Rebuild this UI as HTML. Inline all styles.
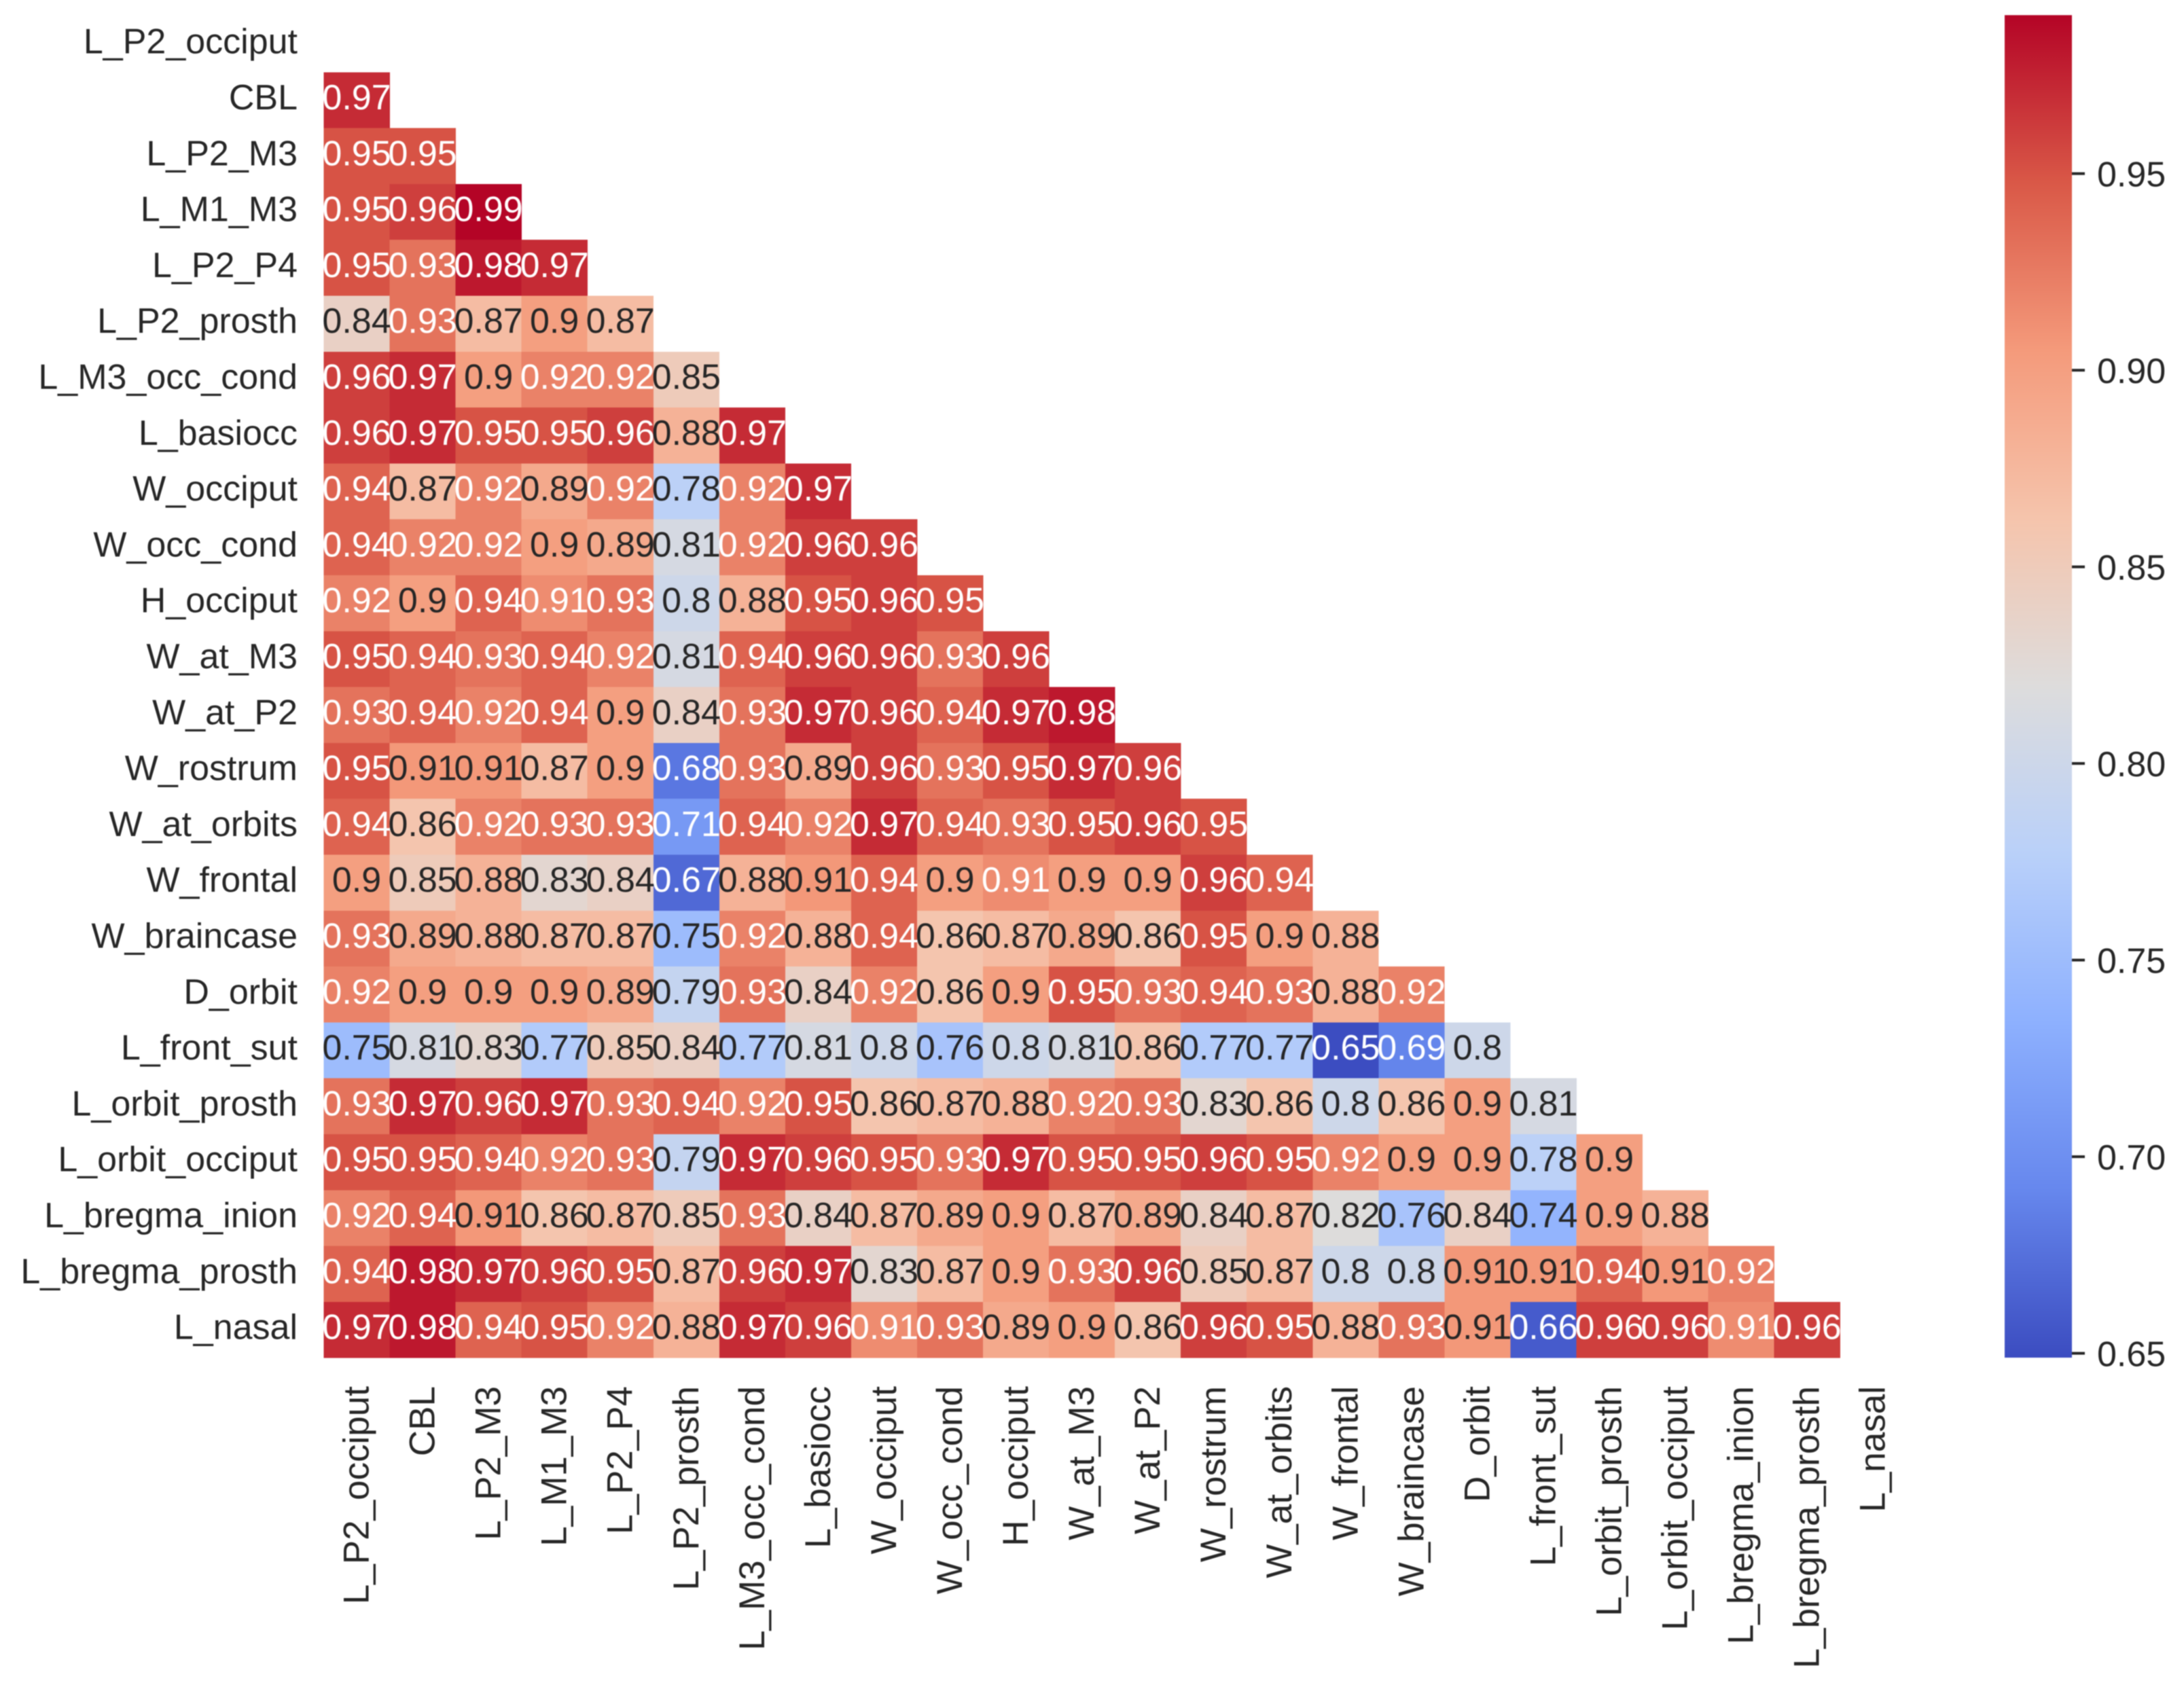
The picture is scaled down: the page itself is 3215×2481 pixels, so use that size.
<!DOCTYPE html>
<html lang="en">
<head>
<meta charset="utf-8">
<title>Correlation heatmap</title>
<style>
html,body{margin:0;padding:0;background:#fff;}
svg{display:block;filter:blur(0.7px);}
text{font-family:"Liberation Sans",Arial,sans-serif;font-size:52px;}
#x-labels text{font-size:53px;}
</style>
</head>
<body>
<svg id="chart" xmlns="http://www.w3.org/2000/svg" width="3215" height="2481" viewBox="0 0 3215 2481">
  <defs>
    <linearGradient id="cbar-gradient" x1="0" y1="1" x2="0" y2="0"></linearGradient>
  </defs>
  <rect x="0" y="0" width="3215" height="2481" fill="#ffffff"></rect>
  <g id="cells"></g>
  <g id="annotations"></g>
  <g id="y-labels"></g>
  <g id="x-labels"></g>
  <g id="colorbar"></g>
</svg>
<script>
const variables = ["L_P2_occiput","CBL","L_P2_M3","L_M1_M3","L_P2_P4","L_P2_prosth","L_M3_occ_cond","L_basiocc","W_occiput","W_occ_cond","H_occiput","W_at_M3","W_at_P2","W_rostrum","W_at_orbits","W_frontal","W_braincase","D_orbit","L_front_sut","L_orbit_prosth","L_orbit_occiput","L_bregma_inion","L_bregma_prosth","L_nasal"];

const correlations = [
  [],
  [.97],
  [.95,.95],
  [.95,.96,.99],
  [.95,.93,.98,.97],
  [.84,.93,.87,.9,.87],
  [.96,.97,.9,.92,.92,.85],
  [.96,.97,.95,.95,.96,.88,.97],
  [.94,.87,.92,.89,.92,.78,.92,.97],
  [.94,.92,.92,.9,.89,.81,.92,.96,.96],
  [.92,.9,.94,.914,.93,.8,.88,.95,.96,.95],
  [.95,.94,.93,.94,.92,.81,.94,.96,.96,.93,.96],
  [.93,.94,.92,.94,.9,.84,.93,.97,.96,.94,.97,.98],
  [.95,.906,.906,.87,.9,.68,.93,.89,.96,.93,.95,.97,.96],
  [.94,.86,.92,.93,.93,.71,.94,.92,.97,.94,.93,.95,.96,.95],
  [.9,.85,.88,.83,.84,.67,.88,.906,.94,.9,.914,.9,.9,.96,.94],
  [.93,.89,.88,.87,.87,.75,.92,.88,.94,.86,.87,.89,.86,.95,.9,.88],
  [.92,.9,.9,.9,.89,.79,.93,.84,.92,.86,.9,.95,.93,.94,.93,.88,.92],
  [.75,.81,.83,.77,.85,.84,.77,.81,.8,.76,.8,.81,.86,.77,.77,.65,.69,.8],
  [.93,.97,.96,.97,.93,.94,.92,.95,.86,.87,.88,.92,.93,.83,.86,.8,.86,.9,.81],
  [.95,.95,.94,.92,.93,.79,.97,.96,.95,.93,.97,.95,.95,.96,.95,.92,.9,.9,.78,.9],
  [.92,.94,.906,.86,.87,.85,.93,.84,.87,.89,.9,.87,.89,.84,.87,.82,.76,.84,.74,.9,.88],
  [.94,.98,.97,.96,.95,.87,.96,.97,.83,.87,.9,.93,.96,.85,.87,.8,.8,.906,.906,.94,.906,.92],
  [.97,.98,.94,.95,.92,.88,.97,.96,.914,.93,.89,.9,.86,.96,.95,.88,.93,.906,.66,.96,.96,.914,.96]
];

const colorbarTicks = [0.65,0.70,0.75,0.80,0.85,0.90,0.95];

const colorDomainMin = 0.649;
const colorDomainMax = 0.99;
const lightTextAtOrAbove = 0.91;
const lightTextAtOrBelow = 0.72;

const coolwarmStops = ["#3b4cc0","#6687ed","#8db0fe","#b9d0f9","#dddcdc","#f5c4ac","#f49a7b","#d95847","#b40426"];

const NS = "http://www.w3.org/2000/svg";
const plotLeft = 476.5, colWidth = 97.05, plotTop = 24, rowHeight = 82.3;
const barLeft = 2951, barRight = 3050, barTop = 22.3, barBottom = 1999;
const tick65Y = 1992.6, barPxPerUnit = 5790;

function xAt(col){ return plotLeft + col * colWidth; }
function yAt(row){ return plotTop + row * rowHeight; }
function barY(v){ return tick65Y - (v - 0.65) * barPxPerUnit; }

function hexToRgb(h){ return [1,3,5].map(function(i){ return parseInt(h.substr(i,2),16); }); }
function colorAt(t){
  const clamped = Math.max(0, Math.min(1, t));
  const pos = clamped * (coolwarmStops.length - 1);
  const i = Math.min(coolwarmStops.length - 2, Math.floor(pos));
  const f = pos - i;
  const a = hexToRgb(coolwarmStops[i]), b = hexToRgb(coolwarmStops[i + 1]);
  const c = a.map(function(x, k){ return Math.round(x + (b[k] - x) * f); });
  return "rgb(" + c.join(",") + ")";
}
function valueColor(v){ return colorAt((v - colorDomainMin) / (colorDomainMax - colorDomainMin)); }
function formatValue(v){ return v.toFixed(2).replace(/0$/, ""); }
function make(tag, attrs, text){
  const el = document.createElementNS(NS, tag);
  Object.keys(attrs).forEach(function(k){ el.setAttribute(k, attrs[k]); });
  if (text !== undefined) el.textContent = text;
  return el;
}

const cellsG = document.getElementById("cells");
const annG = document.getElementById("annotations");
correlations.forEach(function(row, r){
  row.forEach(function(v, c){
    const cell = make("rect", {x: xAt(c), y: yAt(r), width: colWidth + 0.3, height: rowHeight + 0.3, fill: valueColor(v), "shape-rendering": "crispEdges"});
    
    
    cellsG.appendChild(cell);
    const light = v >= lightTextAtOrAbove || v <= lightTextAtOrBelow;
    const label = make("text", {x: xAt(c) + colWidth / 2, y: yAt(r) + rowHeight / 2 + 13.5, "text-anchor": "middle", fill: light ? "#ffffff" : "#262626"}, formatValue(v));
    
    
    annG.appendChild(label);
  });
});

const yG = document.getElementById("y-labels");
const xG = document.getElementById("x-labels");
variables.forEach(function(name, i){
  const yl = make("text", {x: 438, y: yAt(i) + rowHeight / 2 + 13.5, "text-anchor": "end", fill: "#262626"}, name);
  
  
  yG.appendChild(yl);
  const cx = xAt(i) + colWidth / 2 + 17.5;
  const xl = make("text", {x: cx, y: 2041, "text-anchor": "end", fill: "#262626", transform: "rotate(-90 " + cx + " 2041)"}, name);
  
  
  xG.appendChild(xl);
});

const grad = document.getElementById("cbar-gradient");
coolwarmStops.forEach(function(col, i){
  const stop = make("stop", {offset: i / (coolwarmStops.length - 1), "stop-color": col});
  grad.appendChild(stop);
});

const barG = document.getElementById("colorbar");
const bar = make("rect", {x: barLeft, y: barTop, width: barRight - barLeft, height: barBottom - barTop, fill: "url(#cbar-gradient)"});


barG.appendChild(bar);
colorbarTicks.forEach(function(v){
  const y = barY(v);
  const tick = make("line", {x1: barRight, x2: barRight + 19, y1: y, y2: y, stroke: "#262626", "stroke-width": 4});
  
  
  barG.appendChild(tick);
  const lab = make("text", {x: 3087, y: y + 19, fill: "#262626"}, v.toFixed(2));
  
  
  barG.appendChild(lab);
});
</script>
</body>
</html>
